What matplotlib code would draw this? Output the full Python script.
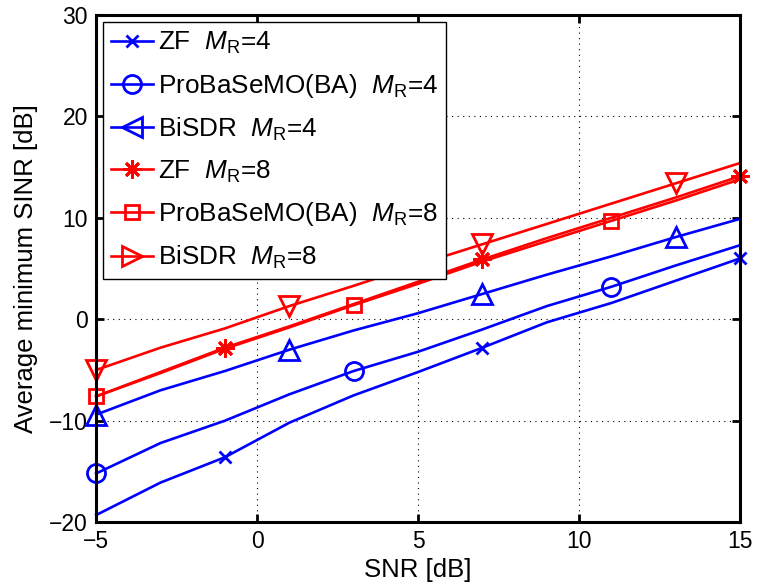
import numpy as np
import matplotlib
matplotlib.use("Agg")
import matplotlib.pyplot as plt
from matplotlib.lines import Line2D

plt.rcParams['font.family'] = ['Liberation Sans', 'DejaVu Sans']
plt.rcParams['mathtext.fontset'] = 'custom'
plt.rcParams['mathtext.it'] = 'Liberation Sans:italic'
plt.rcParams['mathtext.rm'] = 'Liberation Sans'

snr = [-5, -3, -1, 1, 3, 5, 7, 9, 11, 13, 15]

zf_4 = [-19.3, -16.1, -13.6, -10.2, -7.5, -5.2, -2.8, -0.3, 1.6, 3.8, 6.0]
pbs_4 = [-15.2, -12.2, -10.0, -7.4, -5.1, -3.2, -1.0, 1.3, 3.2, 5.3, 7.3]
bisdr_4 = [-9.4, -7.0, -5.1, -3.0, -1.1, 0.6, 2.5, 4.4, 6.2, 8.1, 9.9]
zf_8 = [-7.6, -5.2, -2.8, -0.7, 1.5, 3.7, 5.9, 8.0, 10.0, 12.0, 14.1]
pbs_8 = [-7.6, -5.3, -2.9, -0.8, 1.4, 3.5, 5.7, 7.7, 9.7, 11.7, 13.8]
bisdr_8 = [-5.0, -2.8, -0.9, 1.3, 3.3, 5.4, 7.4, 9.4, 11.4, 13.4, 15.4]

labels = [r'ZF  $\mathit{M}_{\mathrm{R}}$=4',
          r'ProBaSeMO(BA)  $\mathit{M}_{\mathrm{R}}$=4',
          r'BiSDR  $\mathit{M}_{\mathrm{R}}$=4',
          r'ZF  $\mathit{M}_{\mathrm{R}}$=8',
          r'ProBaSeMO(BA)  $\mathit{M}_{\mathrm{R}}$=8',
          r'BiSDR  $\mathit{M}_{\mathrm{R}}$=8']

blue = '#0000ff'
red = '#ff0000'
lw = 1.9
star = (8, 2, 0)

fig = plt.figure(figsize=(7.57, 5.88), dpi=100)
ax = fig.add_axes([0.127, 0.112, 0.8505, 0.8625])

ax.plot(snr, zf_4, color=blue, lw=lw, marker='x', ms=9, mew=2, markevery=[2, 6, 10], clip_on=False)
ax.plot(snr, pbs_4, color=blue, lw=lw, marker='o', ms=13, mfc='none', mew=2, markevery=[0, 4, 8], clip_on=False)
ax.plot(snr, bisdr_4, color=blue, lw=lw, marker='^', ms=15, mfc='none', mew=2, markevery=[0, 3, 6, 9], clip_on=False)
ax.plot(snr, zf_8, color=red, lw=lw, marker=star, ms=13, mew=2, markevery=[2, 6, 10], clip_on=False)
ax.plot(snr, pbs_8, color=red, lw=lw, marker='s', ms=10.5, mfc='none', mew=2, markevery=[0, 4, 8], clip_on=False)
ax.plot(snr, bisdr_8, color=red, lw=lw, marker='v', ms=15, mfc='none', mew=2, markevery=[0, 3, 6, 9], clip_on=False)

ax.set_xlim(-5, 15)
ax.set_ylim(-20, 30)
ax.set_xticks([-5, 0, 5, 10, 15])
ax.set_yticks([-20, -10, 0, 10, 20, 30])
ax.grid(True, color='black', linestyle=(0, (1, 4)), linewidth=0.8)
ax.tick_params(direction='in', length=6, width=2, top=True, right=True, labelsize=16.5, pad=6)
for s in ax.spines.values():
    s.set_linewidth(2.2)

ax.set_xlabel('SNR [dB]', fontsize=18.5, labelpad=3)
ax.set_ylabel('Average minimum SINR [dB]', fontsize=18.5, labelpad=8)

# legend markers as drawn in the original (sideways triangles)
handles = [
    Line2D([], [], color=blue, lw=lw, marker='x', ms=9, mew=2),
    Line2D([], [], color=blue, lw=lw, marker='o', ms=13, mfc='none', mew=2),
    Line2D([], [], color=blue, lw=lw, marker='<', ms=15, mfc='none', mew=2),
    Line2D([], [], color=red, lw=lw, marker=star, ms=13, mew=2),
    Line2D([], [], color=red, lw=lw, marker='s', ms=10.5, mfc='none', mew=2),
    Line2D([], [], color=red, lw=lw, marker='>', ms=15, mfc='none', mew=2),
]
leg = ax.legend(handles, labels, loc='upper left', bbox_to_anchor=(0.011, 0.986),
                fontsize=18.8, fancybox=False, framealpha=1, edgecolor='black',
                handlelength=1.6, handletextpad=0.2, labelspacing=0.6,
                borderpad=0.3, borderaxespad=0.0)
leg.get_frame().set_linewidth(1.0)

fig.savefig('out.png', dpi=100)
